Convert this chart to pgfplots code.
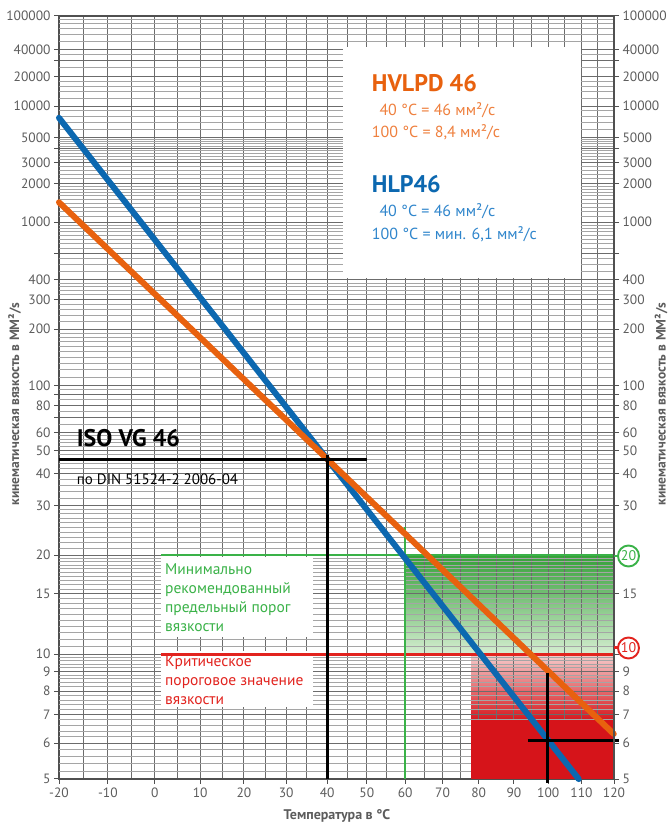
\documentclass[border=0pt]{standalone}
\usepackage{fontspec}
\setmainfont{PT Sans}
\usepackage{pgfplots}
\pgfplotsset{compat=1.18}

\definecolor{gridd}{RGB}{108,108,108}
\definecolor{gridl}{RGB}{165,165,165}
\definecolor{axisc}{RGB}{80,80,80}
\definecolor{tickc}{RGB}{92,92,92}
\definecolor{hvor}{RGB}{232,97,14}
\definecolor{hvorl}{RGB}{239,128,62}
\definecolor{hlpb}{RGB}{12,104,176}
\definecolor{hlpbl}{RGB}{48,134,204}
\definecolor{grn}{RGB}{58,178,72}
\definecolor{grnd}{RGB}{52,160,56}
\definecolor{grnl}{RGB}{214,238,210}
\definecolor{rd}{RGB}{214,20,26}
\definecolor{rdl}{RGB}{246,205,205}
\definecolor{rdt}{RGB}{226,35,30}

% Ubbelohde chart axes: X = log10(T + 273.15), W = log10(log10(v + 0.7))
\newcommand\UX{ln(\thisrow{T}+273.15)/ln(10)}
\newcommand\UY{ln(ln(\thisrow{v}+0.7)/ln(10))/ln(10)}

\pgfplotsset{
  chartframe/.style={
    scale only axis, width=555pt, height=763pt,
    at={(59pt,47pt)}, anchor=south west,
    xmin=2.403378, xmax=2.594559, ymin=-0.121550, ymax=0.698970,
    % v = 5,6,7,8,9,10,15,20,30,40,50,60,70,80,90,100,200,300,400,600,1000,2000,3000,4000,5000,10000,20000,30000,40000,100000
    ytick={-0.121550,-0.082980,-0.052326,-0.027094,-0.005783,0.012578,0.077695,0.119246,0.172351,0.206716,0.231726,0.251197,0.267035,0.280322,0.291726,0.301687,0.362208,0.394125,0.415443,0.443835,0.477165,0.518669,0.541232,0.556559,0.568087,0.602063,0.633575,0.651000,0.662953,0.698970},
    tick align=outside,
    major tick length=5pt, minor tick length=0pt,
    tick style={axisc, line width=1pt},
    axis line style={axisc, line width=1.6pt},
    tick label style={font=\fontsize{13.5}{15}\selectfont, text=tickc},
  },
}

\begin{document}
\begin{tikzpicture}
\begin{axis}[chartframe, set layers, clip=false,
  % T = -20,-10,...,120
  xtick={2.403378,2.420203,2.436401,2.452017,2.467090,2.481657,2.495753,2.509404,2.522640,2.535484,2.547959,2.560087,2.571884,2.583369,2.594559},
  xticklabels={-20,-10,0,10,20,30,40,50,60,70,80,90,100,110,120},
  % T = -15,-5,...,115
  minor xtick={2.411872,2.428378,2.444279,2.459619,2.474435,2.488762,2.502632,2.516073,2.529109,2.541767,2.554065,2.566025,2.577664,2.589000},
  xtick pos=bottom, ytick pos=left,
  yticklabels={5,6,7,8,9,10,15,20,30,40,50,60,{},80,{},100,200,300,400,{},1000,2000,3000,{},5000,10000,20000,{},40000,100000},
  xmajorgrids, xminorgrids, ymajorgrids,
  grid style={gridd, line width=1pt},
]
% shaded zones (below the grid)
\addplot[on layer=axis background, draw=none, top color=grnd, bottom color=grnl] table[row sep=\\, x expr=\UX, y expr=\UY] {T v\\ 60 10\\ 60 20\\ 120 20\\ 120 10\\} -- cycle;
\addplot[on layer=axis background, draw=none, top color=rdl, bottom color=rd] table[row sep=\\, x expr=\UX, y expr=\UY] {T v\\ 78 6.75\\ 78 10\\ 120 10\\ 120 6.75\\} -- cycle;
% fine horizontal grid
\pgfplotsinvokeforeach{5.2,5.4,5.6,5.8,6.2,6.4,6.6,6.8,7.2,7.4,7.6,7.8,8.2,8.4,8.6,8.8,9.2,9.4,9.6,9.8,
    10.5,11,11.5,12,12.5,13,13.5,14,14.5,15.5,16,16.5,17,17.5,18,18.5,19,19.5,
    21,22,23,24,25,26,27,28,29,32,34,36,38,42,44,46,48,52,54,56,58,65,75,85,95,
    110,120,130,140,150,160,170,180,190,220,240,260,280,320,340,360,380,
    450,500,550,650,700,750,800,850,900,950,
    1100,1200,1300,1400,1500,1600,1700,1800,1900,2200,2400,2600,2800,3200,3400,3600,3800,4200,4400,4600,4800,
    6000,7000,8000,9000,12000,14000,16000,18000,25000,35000,50000,60000,70000,80000,90000}{
  \addplot[gridl, line width=1pt] table[row sep=\\, x expr=\UX, y expr=\UY] {T v\\ -20 #1\\ 120 #1\\};
}
% white text boxes
\fill[white] (rel axis cs:0.5117,0.6566) rectangle (rel axis cs:0.9405,0.9594);
\fill[white] (rel axis cs:0.1838,0.1861) rectangle (rel axis cs:0.4577,0.2910);
\fill[white] (rel axis cs:0.1838,0.0944) rectangle (rel axis cs:0.4577,0.1678);
% solid critical zone
\addplot[draw=none, fill=rd] table[row sep=\\, x expr=\UX, y expr=\UY] {T v\\ 78 5\\ 78 6.8\\ 120 6.8\\ 120 5\\} -- cycle;
% thresholds
\addplot[grn, line width=2.5pt] table[row sep=\\, x expr=\UX, y expr=\UY] {T v\\ 1.4 20\\ 120 20\\};
\addplot[rdt, line width=3pt] table[row sep=\\, x expr=\UX, y expr=\UY] {T v\\ 1.4 10\\ 120 10\\};
\addplot[grn, line width=2pt] table[row sep=\\, x expr=\UX, y expr=\UY] {T v\\ 60 5\\ 60 25\\};
% oils
\addplot[hlpb, line width=6pt, line cap=round] table[row sep=\\, x expr=\UX, y expr=\UY] {T v\\ -20 7690\\ 40 46\\ 100 6.1\\ 109.2 5\\};
\addplot[hvor, line width=6pt, line cap=round] table[row sep=\\, x expr=\UX, y expr=\UY] {T v\\ -20 1420\\ 40 46\\ 120 6.3\\};
% reading lines
\addplot[black, line width=3pt] table[row sep=\\, x expr=\UX, y expr=\UY] {T v\\ -20 46\\ 50 46\\};
\addplot[black, line width=3pt] table[row sep=\\, x expr=\UX, y expr=\UY] {T v\\ 40 5\\ 40 48\\};
\addplot[black, line width=3pt] table[row sep=\\, x expr=\UX, y expr=\UY] {T v\\ 100 4.9\\ 100 8.9\\};
\addplot[black, line width=3pt] table[row sep=\\, x expr=\UX, y expr=\UY] {T v\\ 94.1 6.1\\ 121.6 6.1\\};
\end{axis}

\begin{axis}[chartframe,
  axis x line=none, axis y line*=right,
  yticklabels={5,6,7,8,9,{},15,{},30,40,50,60,{},80,{},100,200,300,400,{},1000,2000,3000,{},5000,10000,20000,{},40000,100000},
]
\end{axis}

% circled thresholds on the right
\draw[grn, line width=2.5pt] (614pt,270pt) -- (618pt,270pt);
\draw[grn, line width=1.9pt, fill=white] (628.5pt,270pt) circle (10.5pt);
\node[text=grn, font=\fontsize{14}{16}\selectfont] at (628.5pt,270pt) {20};
\draw[rdt, line width=3pt] (614pt,178pt) -- (618pt,178pt);
\draw[rdt, line width=1.9pt, fill=white] (628.5pt,178pt) circle (10.5pt);
\node[text=rdt, font=\fontsize{14}{16}\selectfont] at (628.5pt,178pt) {10};

% axis titles
\node[rotate=90, inner sep=1pt, text=tickc, font=\fontsize{13.5}{15}\selectfont\bfseries] at (14.5pt,422pt) {кинематическая вязкость в ММ²/s};
\node[rotate=90, inner sep=1pt, text=tickc, font=\fontsize{13.5}{15}\selectfont\bfseries] at (661pt,422pt) {кинематическая вязкость в ММ²/s};
\node[inner sep=1pt, text=tickc, font=\fontsize{14}{16}\selectfont\bfseries] at (337pt,10pt) {Температура в °C};

% legend block
\begin{scope}[every node/.style={anchor=base west, inner sep=0pt}]
\node[text=hvor, font=\fontsize{24}{28}\selectfont\bfseries] at (371.7pt,734.3pt) {HVLPD 46};
\node[text=hvorl, font=\fontsize{16}{19}\selectfont] at (379.3pt,710pt) {40 °C = 46 мм²/с};
\node[text=hvorl, font=\fontsize{16}{19}\selectfont] at (371.7pt,688pt) {100 °C = 8,4 мм²/с};
\node[text=hlpb, font=\fontsize{24}{28}\selectfont\bfseries] at (371.7pt,633pt) {HLP46};
\node[text=hlpbl, font=\fontsize{16}{19}\selectfont] at (379.3pt,609pt) {40 °C = 46 мм²/с};
\node[text=hlpbl, font=\fontsize{16}{19}\selectfont] at (371.7pt,586pt) {100 °C = мин. 6,1 мм²/с};
\node[text=black, font=\fontsize{24}{28}\selectfont\bfseries] at (76.7pt,379.3pt) {ISO VG 46};
\node[text=black, font=\fontsize{15}{18}\selectfont] at (76.7pt,341pt) {по DIN 51524-2 2006-04};
\node[text=grn, font=\fontsize{15.5}{18}\selectfont] at (165pt,251.7pt) {Минимально};
\node[text=grn, font=\fontsize{15.5}{18}\selectfont] at (165pt,232.7pt) {рекомендованный};
\node[text=grn, font=\fontsize{15.5}{18}\selectfont] at (165pt,213pt) {предельный порог};
\node[text=grn, font=\fontsize{15.5}{18}\selectfont] at (165pt,194.3pt) {вязкости};
\node[text=rdt, font=\fontsize{15.5}{18}\selectfont] at (165pt,159.3pt) {Критическое};
\node[text=rdt, font=\fontsize{15.5}{18}\selectfont] at (165pt,140pt) {пороговое значение};
\node[text=rdt, font=\fontsize{15.5}{18}\selectfont] at (165pt,121pt) {вязкости};
\end{scope}
\path (0,0) rectangle (671pt,826pt);
\end{tikzpicture}
\end{document}
